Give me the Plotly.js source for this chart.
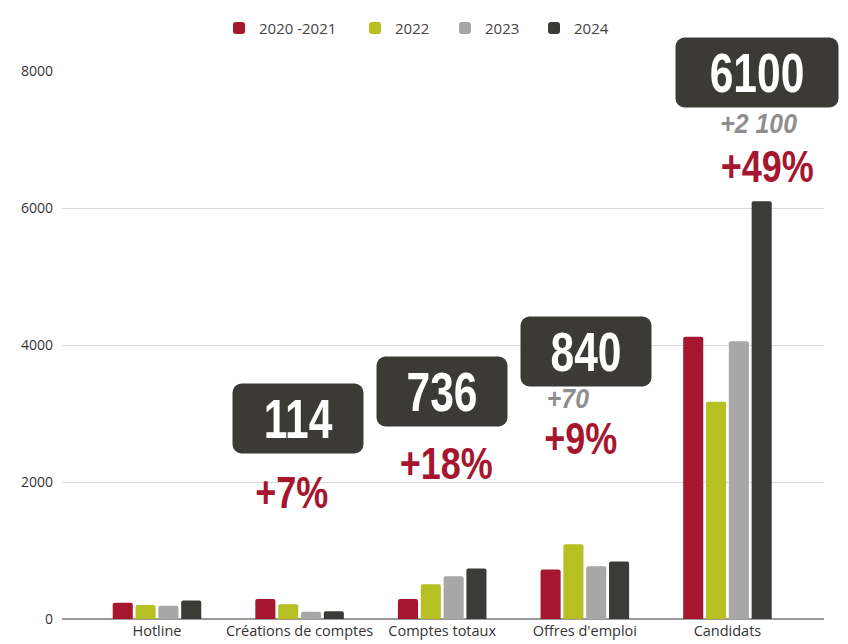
<!DOCTYPE html>
<html>
<head>
<meta charset="utf-8">
<script src="https://cdn.plot.ly/plotly-3.0.1.min.js"></script>
<style>
  html, body { margin: 0; padding: 0; background: #fff; }
  #chart { width: 848px; height: 644px; }
</style>
</head>
<body>
<div id="chart"></div>
<script>
// ---- Data ----
const categories = ["Hotline", "Créations de comptes", "Comptes totaux", "Offres d'emploi", "Candidats"];
const seriesNames = ["2020 -2021", "2022", "2023", "2024"];
const values2020_2021 = [237, 291, 291, 723, 4120];
const values2022 = [204, 214, 509, 1091, 3170];
const values2023 = [194, 107, 624, 770, 4055];
const values2024 = [270, 114, 736, 840, 6100];
const yTicks = [0, 2000, 4000, 6000, 8000];

// Highlighted 2024 values, growth labels
const boxLabels = ["114", "736", "840", "6100"];
const pctLabels = ["+7%", "+18%", "+9%", "+49%"];
const deltaLabels = ["+70", "+2 100"];

const colors = ["#a6162f", "#b6c023", "#a7a7a7", "#3b3b37"];
const allSeries = [values2020_2021, values2022, values2023, values2024];

const traces = allSeries.map((vals, i) => ({
  type: "bar",
  name: seriesNames[i],
  x: categories,
  y: vals,
  marker: { color: colors[i], cornerradius: 2 },
  hoverinfo: "skip"
}));

const numFont = "'Liberation Sans', Arial, sans-serif";

// annotation placement (layout only)
const boxPos = [
  { x: 0.99, y: 2930, w: 128, h: 67 },
  { x: 2.0, y: 3323, w: 128, h: 67 },
  { x: 3.01, y: 3905, w: 128, h: 67 },
  { x: 4.21, y: 7977, w: 160, h: 67 }
];
const pctPos = [
  { x: 0.94, y: 1853 },
  { x: 2.03, y: 2275 },
  { x: 2.97, y: 2639 },
  { x: 4.28, y: 6612 }
];
const deltaPos = [
  { x: 2.88, y: 3207 },
  { x: 4.22, y: 7224 }
];

const annotations = [];
const scaleX = [];
boxLabels.forEach((t, i) => {
  annotations.push({
    xref: "x", yref: "y", x: boxPos[i].x, y: boxPos[i].y,
    text: "<b>" + t + "</b>", showarrow: false,
    bgcolor: "#3b3a36", width: boxPos[i].w, height: boxPos[i].h,
    font: { family: numFont, size: 56, color: "#ffffff" },
    xanchor: "center", yanchor: "middle"
  });
  scaleX.push(0.76);
});
pctLabels.forEach((t, i) => {
  annotations.push({
    xref: "x", yref: "y", x: pctPos[i].x, y: pctPos[i].y,
    text: "<b>" + t + "</b>", showarrow: false,
    font: { family: numFont, size: 45, color: "#a6162f" },
    xanchor: "center", yanchor: "middle"
  });
  scaleX.push(0.8);
});
deltaLabels.forEach((t, i) => {
  annotations.push({
    xref: "x", yref: "y", x: deltaPos[i].x, y: deltaPos[i].y,
    text: "<b><i>" + t + "</i></b>", showarrow: false,
    font: { family: numFont, size: 27, color: "#8e8e8e" },
    xanchor: "center", yanchor: "middle"
  });
  scaleX.push(0.92);
});

const layout = {
  width: 848, height: 644,
  margin: { l: 62, r: 24, t: 69, b: 25 },
  paper_bgcolor: "#ffffff", plot_bgcolor: "#ffffff",
  barmode: "group",
  bargap: 0.36,
  bargroupgap: 0.12,
  font: { family: "'Open Sans', 'Noto Sans', sans-serif", color: "#333333", size: 14 },
  showlegend: true,
  legend: {
    orientation: "h", x: 0.47, xanchor: "center", y: 1.078, yanchor: "middle",
    bgcolor: "rgba(0,0,0,0)",
    font: { size: 15, color: "#444444" }, traceorder: "normal"
  },
  xaxis: {
    type: "category",
    range: [-0.666, 4.677],
    showgrid: false, zeroline: false, showline: false,
    ticks: "", ticklabelstandoff: 1, tickfont: { size: 14.5, color: "#333333" }
  },
  yaxis: {
    range: [0, 8000],
    tickvals: yTicks,
    ticktext: yTicks.map(String),
    showgrid: true, gridcolor: "#d9d9d9", gridwidth: 1,
    zeroline: true, zerolinecolor: "#9a9a9a", zerolinewidth: 1.5,
    showline: false, ticks: "", ticklabelstandoff: 8,
    tickfont: { size: 14, color: "#333333" }
  },
  annotations: annotations
};

// target legend swatch centres (px) to match the reference spacing
const legendSwatchX = [239, 375, 465, 554];

Plotly.newPlot("chart", traces, layout, { displayModeBar: false, staticPlot: true }).then(() => {
  const root = document.getElementById("chart").getBoundingClientRect();
  document.querySelectorAll("#chart .annotation").forEach((g, i) => {
    const idx = parseInt(g.getAttribute("data-index"), 10);
    const s = scaleX[isNaN(idx) ? i : idx];
    const bg = g.querySelector("rect.bg");
    if (idx < boxLabels.length && bg) { bg.setAttribute("rx", 9); bg.setAttribute("ry", 9); }
    const txt = g.querySelector("text.annotation-text");
    if (txt && s) {
      const bb = txt.getBBox();
      const cx = bb.x + bb.width / 2;
      const prev = txt.getAttribute("transform") || "";
      txt.setAttribute("transform", `translate(${cx},0) scale(${s},1) translate(${-cx},0) ${prev}`);
    }
  });
  document.querySelectorAll("#chart .legend [clip-path]").forEach(el => el.removeAttribute("clip-path"));
  document.querySelectorAll("#chart .legend .traces").forEach((g, i) => {
    const sym = g.querySelector(".legendpoints path");
    if (!sym || legendSwatchX[i] === undefined) return;
    const r = sym.getBoundingClientRect();
    const cur = r.left + r.width / 2 - root.left;
    const dx = legendSwatchX[i] - cur;
    const tr = g.getAttribute("transform") || "";
    const m = tr.match(/translate\(\s*([-\d.]+)[ ,]+([-\d.]+)\s*\)/);
    if (m) g.setAttribute("transform", `translate(${parseFloat(m[1]) + dx},${m[2]})`);
  });
});
</script>
</body>
</html>
